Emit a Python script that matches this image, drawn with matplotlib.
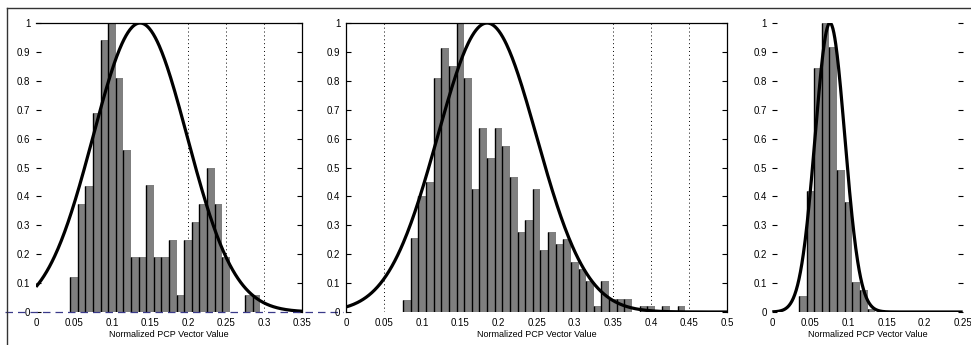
import numpy as np
import matplotlib
matplotlib.use('Agg')
import matplotlib.pyplot as plt
from matplotlib.lines import Line2D

plt.rcParams['font.family'] = ['Liberation Sans Narrow', 'Liberation Sans', 'DejaVu Sans']

# histogram bins (centres) and normalised heights
bins1 = [0.05, 0.06, 0.07, 0.08, 0.09, 0.10, 0.11, 0.12, 0.13, 0.14, 0.15, 0.16, 0.17,
         0.18, 0.19, 0.20, 0.21, 0.22, 0.23, 0.24, 0.25, 0.28, 0.29]
hist1 = [0.12, 0.375, 0.436, 0.69, 0.94, 1.0, 0.81, 0.56, 0.19, 0.19, 0.44, 0.19, 0.19,
         0.25, 0.06, 0.25, 0.31, 0.375, 0.5, 0.375, 0.19, 0.06, 0.06]

bins2 = [0.08, 0.09, 0.10, 0.11, 0.12, 0.13, 0.14, 0.15, 0.16, 0.17, 0.18, 0.19, 0.20,
         0.21, 0.22, 0.23, 0.24, 0.25, 0.26, 0.27, 0.28, 0.29, 0.30, 0.31, 0.32, 0.33,
         0.34, 0.35, 0.36, 0.37, 0.39, 0.40, 0.42, 0.44]
hist2 = [0.043, 0.256, 0.40, 0.45, 0.81, 0.915, 0.85, 1.0, 0.81, 0.427, 0.638, 0.532, 0.638,
         0.576, 0.468, 0.277, 0.32, 0.427, 0.213, 0.277, 0.234, 0.254, 0.173, 0.148, 0.106, 0.02,
         0.106, 0.046, 0.046, 0.046, 0.02, 0.02, 0.02, 0.02]

bins3 = [0.04, 0.05, 0.06, 0.07, 0.08, 0.09, 0.10, 0.11, 0.12, 0.13, 0.21]
hist3 = [0.054, 0.42, 0.844, 1.0, 0.917, 0.49, 0.38, 0.103, 0.077, 0.012, 0.005]

# fitted normal curves (mean, std) and x ranges
fit1 = (0.137, 0.062)
fit2 = (0.185, 0.065)
fit3 = (0.0757, 0.0195)
xmax = [0.35, 0.5, 0.25]

xticks1 = [0, 0.05, 0.1, 0.15, 0.2, 0.25, 0.3, 0.35]
xticks2 = [0, 0.05, 0.1, 0.15, 0.2, 0.25, 0.3, 0.35, 0.4, 0.45, 0.5]
xticks3 = [0, 0.05, 0.1, 0.15, 0.2, 0.25]
yticks = [0, 0.1, 0.2, 0.3, 0.4, 0.5, 0.6, 0.7, 0.8, 0.9, 1]

W, H = 971, 345
fig = plt.figure(figsize=(W / 100, H / 100), dpi=100)
fig.patch.set_facecolor('white')

def box(x0, x1):
    return [x0 / W, (H - 312) / H, (x1 - x0) / W, 289 / H]

ax1 = fig.add_axes(box(36, 302))
ax2 = fig.add_axes(box(346, 727.3))
ax3 = fig.add_axes(box(772.3, 962.7))

def fmt(v):
    s = ('%.2f' % v).rstrip('0').rstrip('.')
    return s

panels = [(ax1, bins1, hist1, fit1, xticks1, xmax[0]),
          (ax2, bins2, hist2, fit2, xticks2, xmax[1]),
          (ax3, bins3, hist3, fit3, xticks3, xmax[2])]

for ax, b, h, fit, xt, xm in panels:
    b = np.array(b)
    h = np.array(h)
    w = 0.01
    ax.bar(b, h, width=w, color='#7f7f7f', edgecolor='none', zorder=2)
    ax.vlines(b - w / 2, 0, h, color='black', lw=1.0, zorder=3)
    x = np.linspace(0, xm, 400)
    mu, sd = fit
    ax.plot(x, np.exp(-(x - mu) ** 2 / (2 * sd ** 2)), color='black', lw=2.3, zorder=4,
            solid_capstyle='butt')
    ax.set_xlim(0, xm)
    ax.set_ylim(0, 1)
    ax.set_xticks(xt)
    ax.set_xticklabels([fmt(v) for v in xt])
    ax.set_yticks(yticks)
    ax.set_yticklabels([fmt(v) for v in yticks])
    ax.tick_params(axis='x', length=0, pad=4, labelsize=7)
    ax.tick_params(axis='y', direction='in', length=3.5, width=0.8, pad=4, labelsize=7,
                   right=True)
    ax.set_xlabel('Normalized PCP Vector Value', fontsize=6.5, labelpad=2)
    for sp in ax.spines.values():
        sp.set_linewidth(0.9)

# panel 1: only top and right frame, dashed zero line, dotted grid
ax1.spines['left'].set_visible(False)
ax1.spines['bottom'].set_visible(False)
for gx in [0.1, 0.2, 0.25, 0.3]:
    ax1.axvline(gx, color='black', lw=0.7, ls=(0, (1, 3)), zorder=1)
ax1.plot([-0.041, 0.404], [0, 0], color='#3a3a8a', lw=0.9, ls=(0, (6, 4)),
         clip_on=False, zorder=5)

# panel 2: full frame except bottom, dotted grid
ax2.spines['bottom'].set_visible(False)
for gx in [0.05, 0.35, 0.4, 0.45]:
    ax2.axvline(gx, color='black', lw=0.7, ls=(0, (1, 3)), zorder=1)

# panel 3: no frame
for sp in ax3.spines.values():
    sp.set_visible(False)

# outer frame of the scanned figure
fig.add_artist(Line2D([7 / W, 1], [1 - 8 / H, 1 - 8 / H], color='#333333', lw=1.0))
fig.add_artist(Line2D([7 / W, 7 / W], [0, 1 - 8 / H], color='#333333', lw=1.0))

fig.savefig('out.png', dpi=100, facecolor='white')
